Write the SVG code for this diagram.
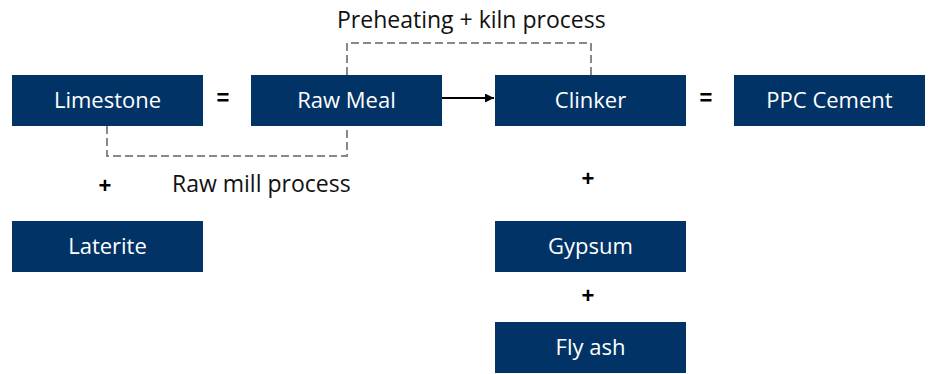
<svg xmlns="http://www.w3.org/2000/svg" width="931" height="374" viewBox="0 0 931 374">
<defs>
<style>
.box{fill:#023366}
.bt{font-family:"Open Sans","Liberation Sans",sans-serif;font-size:22px;fill:#ffffff;text-anchor:middle}
.lbl{font-family:"Open Sans","Liberation Sans",sans-serif;font-size:23px;fill:#111111}
.op{font-family:"Liberation Sans",Arial,sans-serif;font-size:22px;font-weight:bold;fill:#000;text-anchor:middle}
.dash{fill:none;stroke:#888888;stroke-width:2;stroke-dasharray:8 4}
</style>
<marker id="arr" viewBox="0 0 10 10" refX="10" refY="5" markerWidth="9" markerHeight="9" markerUnits="userSpaceOnUse" orient="auto">
<path d="M0,0 L10,5 L0,10 z" fill="#000"/>
</marker>
</defs>
<rect width="931" height="374" fill="#ffffff"/>
<g id="connectors">
<path class="dash" d="M347,75 V43 H591 V75"/>
<path class="dash" d="M107,126 V156 H347 V126"/>
<line x1="442" y1="98" x2="494" y2="98" stroke="#000" stroke-width="2" marker-end="url(#arr)"/>
</g>
<g id="limestone"><rect class="box" x="12" y="75" width="191" height="51"/><text class="bt" x="107.5" y="108">Limestone</text></g>
<g id="rawmeal"><rect class="box" x="251" y="75" width="191" height="51"/><text class="bt" x="346.5" y="108">Raw Meal</text></g>
<g id="clinker"><rect class="box" x="495" y="75" width="191" height="51"/><text class="bt" x="590.5" y="108">Clinker</text></g>
<g id="ppc"><rect class="box" x="734" y="75" width="191" height="51"/><text class="bt" x="829.5" y="108">PPC Cement</text></g>
<g id="laterite"><rect class="box" x="12" y="221" width="191" height="51"/><text class="bt" x="107.5" y="254">Laterite</text></g>
<g id="gypsum"><rect class="box" x="495" y="221" width="191" height="51"/><text class="bt" x="590.5" y="254">Gypsum</text></g>
<g id="flyash"><rect class="box" x="495" y="322" width="191" height="51"/><text class="bt" x="590.5" y="355">Fly ash</text></g>
<g id="labels">
<text class="lbl" x="337" y="28">Preheating + kiln process</text>
<text class="lbl" x="172" y="192">Raw mill process</text>
<text class="op" x="223" y="105">=</text>
<text class="op" x="706" y="105">=</text>
<text class="op" x="105" y="193">+</text>
<text class="op" x="588" y="186">+</text>
<text class="op" x="588" y="303">+</text>
</g>
</svg>
